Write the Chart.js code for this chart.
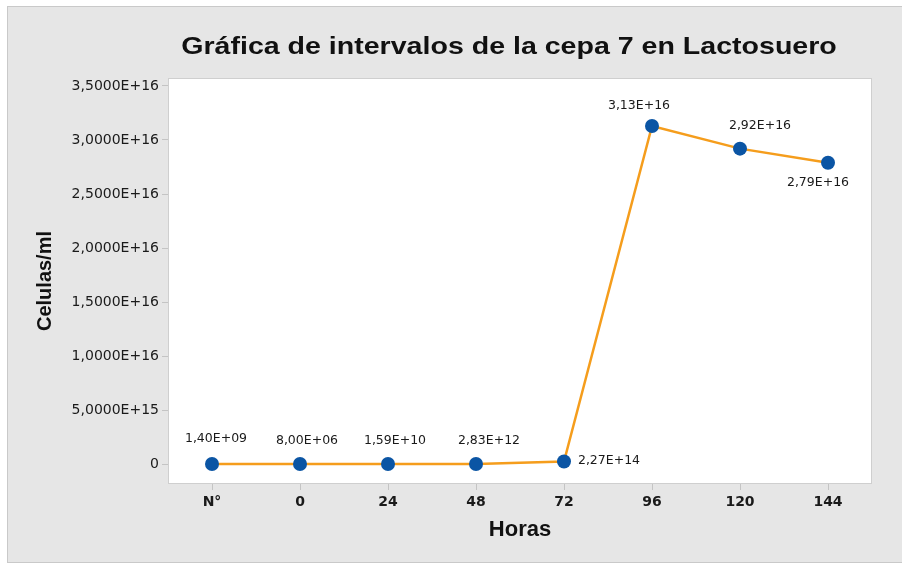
<!DOCTYPE html>
<html>
<head>
<meta charset="utf-8">
<script src="https://cdn.jsdelivr.net/npm/chart.js@4.4.1/dist/chart.umd.min.js"></script>
<style>
  body { margin: 0; background: #fff; }
  canvas { display: block; }
</style>
</head>
<body>
<canvas id="chart" width="902" height="565"></canvas>
<script>
// data
const horas = ["N°", "0", "24", "48", "72", "96", "120", "144"];
const celulas = [1.40e9, 8.00e6, 1.59e10, 2.83e12, 2.27e14, 3.13e16, 2.92e16, 2.79e16];
const yTicks = [0, 5e15, 1e16, 1.5e16, 2e16, 2.5e16, 3e16, 3.5e16];
const yTickLabels = ["0", "5,0000E+15", "1,0000E+16", "1,5000E+16", "2,0000E+16", "2,5000E+16", "3,0000E+16", "3,5000E+16"];

// where each value label sits relative to its point (label centre, px)
const labelOffsets = [[4, -25], [7, -23], [7, -23], [13, -23], [45, -1], [-13, -20], [20, -23], [-10, 20]];

const chartTitle = "Gráfica de intervalos de la cepa 7 en Lactosuero";

// format 1.4e9 -> "1,40E+09"
function sci(v) {
    const parts = v.toExponential(2).split("e");
    let exp = parseInt(parts[1], 10);
    const sign = exp < 0 ? "-" : "+";
    exp = Math.abs(exp);
    return parts[0].replace(".", ",") + "E" + sign + (exp < 10 ? "0" + exp : exp);
}

// BACKGROUND PANEL + PLOT AREA + TITLE
const panelPlugin = {
    id: "panel",
    beforeDraw(chart) {
        const ctx = chart.ctx;
        const a = chart.chartArea;
        ctx.save();
        ctx.fillStyle = "#e6e6e6";
        ctx.fillRect(7, 6, 895, 557);
        ctx.strokeStyle = "#c9c9c9";
        ctx.lineWidth = 1;
        ctx.strokeRect(7.5, 6.5, 896, 556);
        ctx.fillStyle = "#ffffff";
        ctx.fillRect(a.left, a.top, a.right - a.left, a.bottom - a.top);
        ctx.strokeStyle = "#cfcfcf";
        ctx.strokeRect(a.left + 0.5, a.top + 0.5, a.right - a.left - 1, a.bottom - a.top - 1);
        // title (the original is a bit stretched sideways)
        ctx.fillStyle = "#111";
        ctx.font = "bold 24px 'Liberation Sans', Arial, sans-serif";
        ctx.textAlign = "center";
        ctx.textBaseline = "middle";
        ctx.translate(509, 47);
        ctx.scale(1.19, 1);
        ctx.fillText(chartTitle, 0, 0);
        ctx.restore();
    }
};

// VALUE LABELS
const valueLabels = {
    id: "valueLabels",
    afterDatasetsDraw(chart) {
        const ctx = chart.ctx;
        const meta = chart.getDatasetMeta(0);
        ctx.save();
        ctx.fillStyle = "#1a1a1a";
        ctx.font = "12.5px 'DejaVu Sans', sans-serif";
        ctx.textAlign = "center";
        ctx.textBaseline = "middle";
        meta.data.forEach((pt, i) => {
            const off = labelOffsets[i];
            ctx.fillText(sci(celulas[i]), pt.x + off[0], pt.y + off[1]);
        });
        ctx.restore();
    }
};

new Chart(document.getElementById("chart"), {
    type: "line",
    data: {
        labels: horas,
        datasets: [{
            data: celulas,
            borderColor: "#f59d1c",
            borderWidth: 2.5,
            tension: 0,
            pointRadius: 7,
            pointHoverRadius: 7,
            pointBackgroundColor: "#0b55a4",
            pointBorderColor: "#0b55a4",
            pointBorderWidth: 0
        }]
    },
    options: {
        responsive: false,
        animation: false,
        layout: { padding: { left: 0, right: 30, top: 78, bottom: 0 } },
        plugins: {
            legend: { display: false },
            tooltip: { enabled: false }
        },
        scales: {
            x: {
                type: "category",
                offset: true,
                afterFit(scale) { scale.height = 81; },
                grid: { drawOnChartArea: false, drawTicks: true, tickLength: 6, color: "#c4c4c4", offset: false },
                border: { display: false },
                ticks: {
                    color: "#1a1a1a",
                    padding: 4,
                    font: { family: "'DejaVu Sans', sans-serif", size: 14, weight: "bold" }
                },
                title: {
                    display: true,
                    text: "Horas",
                    color: "#111",
                    font: { family: "'Liberation Sans', Arial, sans-serif", size: 22, weight: "bold" },
                    padding: { top: 0, bottom: 22 }
                }
            },
            y: {
                min: -1.85e15,
                max: 3.574e16,
                afterFit(scale) { scale.width = 168; },
                afterBuildTicks(scale) {
                    scale.ticks = yTicks.map(v => ({ value: v }));
                },
                grid: { drawOnChartArea: false, drawTicks: true, tickLength: 6, color: "#c4c4c4" },
                border: { display: false },
                ticks: {
                    color: "#1a1a1a",
                    padding: 3,
                    font: { family: "'DejaVu Sans', sans-serif", size: 14 },
                    callback(value) {
                        const i = yTicks.indexOf(value);
                        return i >= 0 ? yTickLabels[i] : "";
                    }
                },
                title: {
                    display: true,
                    text: "Celulas/ml",
                    color: "#111",
                    font: { family: "'Liberation Sans', Arial, sans-serif", size: 20, weight: "bold" },
                    padding: { top: 33, bottom: 0 }
                }
            }
        }
    },
    plugins: [panelPlugin, valueLabels]
});
</script>
</body>
</html>
